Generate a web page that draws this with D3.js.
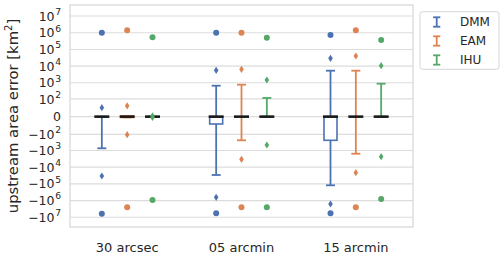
<!DOCTYPE html>
<html><head><meta charset="utf-8">
<script src="https://cdn.jsdelivr.net/npm/d3@7"></script>
<style>body{margin:0;background:#fff}svg{display:block;font-family:"DejaVu Sans",sans-serif}</style>
</head><body><svg id="c" width="500" height="253"></svg>
<script>
const categories = ["30 arcsec", "05 arcmin", "15 arcmin"];
const methods = ["DMM", "EAM", "IHU"];
const colors = ["#4C72B0", "#DD8452", "#55A868"];
// box stats per category: [lowWhisker, q1, median, q3, highWhisker]
const boxDMM = [[-734, 0, 0, 0, 0], [-29400, -16.7, 0, 0, 666], [-121700, -238, 0, 0, 5330]];
const boxEAM = [[-1, -1, 0, 1, 1], [-238, 0, 0, 0, 766], [-1560, 0, 0, 0, 5330]];
const boxIHU = [[0, 0, 0, 0, 0], [0, 0, 0, 0, 115], [0, 0, 0, 0, 880]];
// diamond markers per category
const flierDMM = [[23, -33800], [5630, -636000], [29400, -1600000]];
const flierEAM = [[33, -105], [6460, -3380], [40400, -21400]];
const flierIHU = [[1, -1], [1470, -463], [10600, -2360]];
// circle markers (extremes) per category
const extremeDMM = [[1.0e6, -6.1e6], [1.0e6, -5.8e6], [7.3e5, -5.8e6]];
const extremeEAM = [[1.39e6, -2.5e6], [1.0e6, -2.5e6], [1.39e6, -2.5e6]];
const extremeIHU = [[5.3e5, -9.2e5], [5.0e5, -2.5e6], [3.66e5, -8.0e5]];
const yTicks = [1e7, 1e6, 1e5, 1e4, 1e3, 1e2, 0, -1e2, -1e3, -1e4, -1e5, -1e6, -1e7];
const yLabel = "upstream area error [km";

const boxes = [boxDMM, boxEAM, boxIHU];
const fliers = [flierDMM, flierEAM, flierIHU];
const extremes = [extremeDMM, extremeEAM, extremeIHU];

const svg = d3.select("#c");
const L = 70, R = 413, T = 5, B = 227;
const x = d3.scaleBand().domain(categories).range([L, R]).padding(0);
const xh = d3.scaleBand().domain(methods).range([-38, 38]).padding(0);
const y = d3.scaleSymlog().constant(9.5).domain([-1e7, 1e7]).range([217.3, 16]);

// grid
svg.append("g").selectAll("line").data(yTicks).join("line")
  .attr("x1", L).attr("x2", R).attr("y1", d => y(d)).attr("y2", d => y(d))
  .attr("stroke", "#dcdcdc").attr("stroke-width", 1.1);
svg.append("rect").attr("x", L).attr("y", T).attr("width", R - L).attr("height", B - T)
  .attr("fill", "none").attr("stroke", "#d6d6d6").attr("stroke-width", 1.2);

// y tick labels
const yl = svg.append("g").attr("font-size", 12.5).attr("fill", "#262626");
yTicks.forEach(v => {
  const t = yl.append("text").attr("x", 61).attr("y", y(v) + 4.6).attr("text-anchor", "end");
  if (v === 0) { t.text("0"); return; }
  const e = Math.round(Math.log10(Math.abs(v)));
  t.append("tspan").text((v < 0 ? "\u2212" : "") + "10");
  t.append("tspan").attr("dy", -5.7).attr("dx", 0.6).attr("font-size", 9.2).text(e);
});

// x tick labels
svg.append("g").selectAll("text").data(categories).join("text")
  .attr("x", d => x(d) + x.bandwidth() / 2).attr("y", 251.5)
  .attr("text-anchor", "middle").attr("font-size", 13).attr("fill", "#262626").text(d => d);

// y label
const ylab = svg.append("text").attr("transform", "translate(18.3,116) rotate(-90)")
  .attr("text-anchor", "middle").attr("font-size", 14.8).attr("fill", "#262626");
ylab.append("tspan").text(yLabel);
ylab.append("tspan").attr("dy", -6).attr("font-size", 10).text("2");
ylab.append("tspan").attr("dy", 6).text("]");

const bw = 13, capw = 9, medw = 15;
methods.forEach((m, mi) => {
  const col = colors[mi];
  const g = svg.append("g");
  categories.forEach((c, ci) => {
    const cx = x(c) + x.bandwidth() / 2 + xh(m) + xh.bandwidth() / 2;
    const [wl, q1, med, q3, wh] = boxes[mi][ci];
    // whiskers
    g.append("line").attr("x1", cx).attr("x2", cx).attr("y1", y(q1)).attr("y2", y(wl))
      .attr("stroke", col).attr("stroke-width", 1.8);
    g.append("line").attr("x1", cx).attr("x2", cx).attr("y1", y(q3)).attr("y2", y(wh))
      .attr("stroke", col).attr("stroke-width", 1.8);
    [wl, wh].forEach(v => g.append("line").attr("x1", cx - capw / 2).attr("x2", cx + capw / 2)
      .attr("y1", y(v)).attr("y2", y(v)).attr("stroke", col).attr("stroke-width", 1.8));
    // box
    g.append("rect").attr("x", cx - bw / 2).attr("width", bw)
      .attr("y", y(q3)).attr("height", Math.max(0, y(q1) - y(q3)))
      .attr("fill", "#fff").attr("stroke", col).attr("stroke-width", 1.6);
    // median
    g.append("line").attr("x1", cx - medw / 2).attr("x2", cx + medw / 2)
      .attr("y1", y(med)).attr("y2", y(med)).attr("stroke", "#1a1a1a").attr("stroke-width", 2.6);
  });
  categories.forEach((c, ci) => {
    const cx = x(c) + x.bandwidth() / 2 + xh(m) + xh.bandwidth() / 2;
    fliers[mi][ci].forEach(v => {
      const yy = y(v);
      g.append("path").attr("d", `M${cx},${yy - 3.6}L${cx + 2.3},${yy}L${cx},${yy + 3.6}L${cx - 2.3},${yy}Z`)
        .attr("fill", col);
    });
    extremes[mi][ci].forEach(v => {
      g.append("circle").attr("cx", cx).attr("cy", y(v)).attr("r", 3).attr("fill", col);
    });
  });
});

// legend
const lg = svg.append("g");
lg.append("rect").attr("x", 420).attr("y", 11.7).attr("width", 79).attr("height", 57.6)
  .attr("rx", 2.5).attr("fill", "#fff").attr("fill-opacity", 0.8).attr("stroke", "#d6d6d6").attr("stroke-width", 1);
methods.forEach((m, i) => {
  const cy = 22 + i * 19, cx = 436.7;
  lg.append("line").attr("x1", cx).attr("x2", cx).attr("y1", cy - 4.7).attr("y2", cy + 4.7)
    .attr("stroke", colors[i]).attr("stroke-width", 1.8);
  [cy - 4.7, cy + 4.7].forEach(v => lg.append("line").attr("x1", cx - 3.6).attr("x2", cx + 3.6)
    .attr("y1", v).attr("y2", v).attr("stroke", colors[i]).attr("stroke-width", 1.8));
  lg.append("text").attr("x", 460).attr("y", cy + 4.3).attr("font-size", 12).attr("fill", "#262626").text(m);
});
</script></body></html>
